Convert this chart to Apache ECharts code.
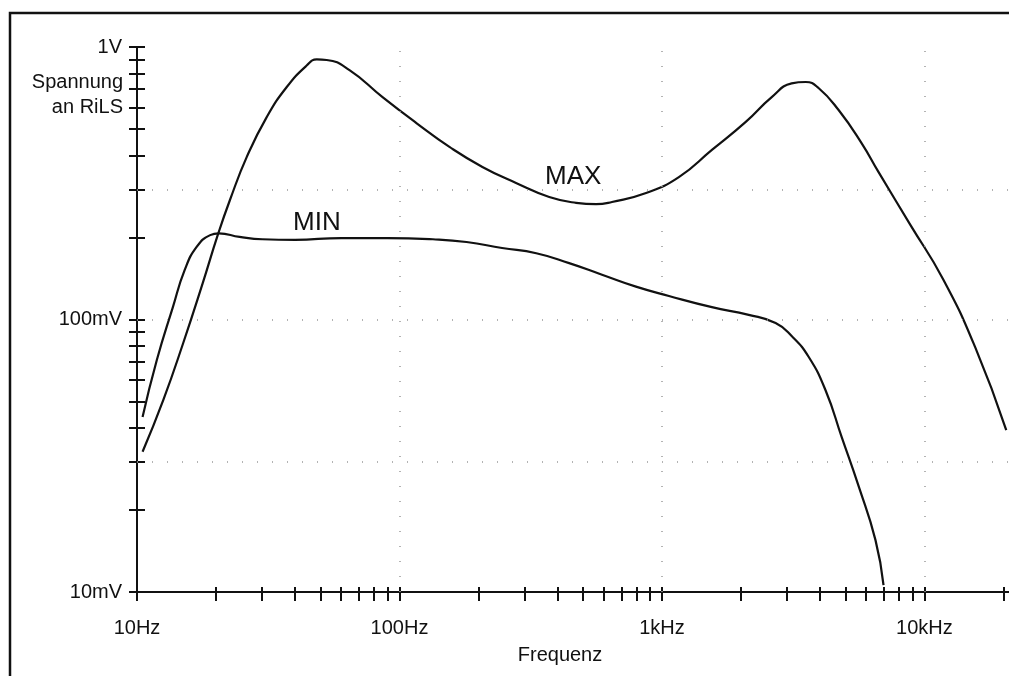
<!DOCTYPE html>
<html>
<head>
<meta charset="utf-8">
<title>Spannung an RiLS</title>
<script src="https://cdn.jsdelivr.net/npm/echarts@6/dist/echarts.min.js"></script>
<style>
  html, body { margin: 0; padding: 0; background: #fff; }
  #chart { width: 1009px; height: 676px; }
</style>
</head>
<body>
<div id="chart"></div>
<script>
// frequency (Hz) / voltage (V)
const minFreq = [10.5, 11.9, 13.7, 15.2, 16.9, 19, 20.5, 24.6, 30, 40, 60, 90, 134, 180, 246, 332, 443, 591, 796, 1063, 1550, 2140, 2710, 3120, 3620, 4200, 4840, 5610, 6510, 6985]
const minVolt = [0.0439, 0.071, 0.111, 0.152, 0.185, 0.204, 0.207, 0.201, 0.197, 0.196, 0.199, 0.199, 0.197, 0.1925, 0.183, 0.175, 0.161, 0.146, 0.132, 0.122, 0.111, 0.104, 0.097, 0.087, 0.073, 0.055, 0.037, 0.0245, 0.0155, 0.0106]

const maxFreq = [10.5, 12.6, 15, 17.8, 20.3, 22.6, 26.2, 31.2, 37.2, 44.3, 48.4, 52.8, 64.5, 86.2, 116, 155, 207, 278, 372, 471, 561, 645, 870, 1160, 1550, 2086, 2620, 3120, 3530, 3950, 4710, 5760, 6680, 8850, 11810, 15620, 20500]
const maxVolt = [0.0327, 0.0507, 0.082, 0.136, 0.204, 0.2745, 0.395, 0.553, 0.713, 0.855, 0.9, 0.896, 0.823, 0.655, 0.526, 0.43, 0.363, 0.317, 0.2815, 0.268, 0.265, 0.27, 0.291, 0.333, 0.419, 0.531, 0.655, 0.735, 0.744, 0.707, 0.587, 0.444, 0.348, 0.222, 0.14, 0.079, 0.0393]

const xTicks = [10, 20, 30, 40, 50, 60, 70, 80, 90, 100, 200, 300, 400, 500, 600, 700, 800, 900, 1000, 2000, 3000, 4000, 5000, 6000, 7000, 8000, 9000, 10000, 20000]
const xLabelValues = [10, 100, 1000, 10000]
const xLabelTexts = ['10Hz', '100Hz', '1kHz', '10kHz']
const yTicks = [0.01, 0.02, 0.03, 0.04, 0.05, 0.06, 0.07, 0.08, 0.09, 0.1, 0.2, 0.3, 0.4, 0.5, 0.6, 0.7, 0.8, 0.9, 1]
const yLabelValues = [0.01, 0.1, 1]
const yLabelTexts = ['10mV', '100mV', '1V']
const gridFreqs = [100, 1000, 10000]
const gridVolts = [0.03, 0.1, 0.3]

const font = "'Liberation Sans', Arial, sans-serif"
const ink = '#111'

function pairs(xs, ys) {
  return xs.map((x, i) => [x, ys[i]])
}

function labelFor(values, texts) {
  return v => {
    const i = values.findIndex(u => Math.abs(u - v) / u < 1e-6)
    return i >= 0 ? texts[i] : ''
  }
}

const chart = echarts.init(document.getElementById('chart'))

const xBase = {
  type: 'log',
  logBase: 10,
  min: 10,
  max: 21000,
  position: 'bottom',
  splitLine: { show: false },
  axisLine: { onZero: false, lineStyle: { color: ink, width: 2 } }
}
const yBase = {
  type: 'log',
  logBase: 10,
  min: 0.01,
  max: 1,
  position: 'left',
  splitLine: { show: false },
  axisLine: { onZero: false, lineStyle: { color: ink, width: 2 } }
}

chart.setOption({
  animation: false,
  backgroundColor: '#fff',
  textStyle: { fontFamily: font },
  grid: { left: 137, top: 47, width: 874, height: 545, containLabel: false },
  xAxis: [
    Object.assign({}, xBase, {
      axisTick: { customValues: xTicks, length: 9, lineStyle: { color: ink, width: 2 } },
      axisLabel: {
        customValues: xLabelValues,
        formatter: labelFor(xLabelValues, xLabelTexts),
        color: ink, fontSize: 20, fontFamily: font, margin: 26
      }
    }),
    Object.assign({}, xBase, {
      axisLine: { show: false },
      axisLabel: { show: false },
      axisTick: { customValues: xTicks, inside: true, length: 5, lineStyle: { color: ink, width: 2 } }
    })
  ],
  yAxis: [
    Object.assign({}, yBase, {
      axisTick: { customValues: yTicks, length: 8, lineStyle: { color: ink, width: 2 } },
      axisLabel: {
        customValues: yLabelValues,
        formatter: labelFor(yLabelValues, yLabelTexts),
        color: ink, fontSize: 20, fontFamily: font, margin: 15
      }
    }),
    Object.assign({}, yBase, {
      axisLine: { show: false },
      axisLabel: { show: false },
      axisTick: { customValues: yTicks, inside: true, length: 8, lineStyle: { color: ink, width: 2 } }
    })
  ],
  graphic: [
    {
      type: 'rect',
      shape: { x: 10, y: 13, width: 1100, height: 800 },
      style: { fill: 'none', stroke: ink, lineWidth: 2.5 },
      silent: true
    },
    {
      type: 'text', x: 123, y: 82,
      style: { text: 'Spannung', font: '20px ' + font, fill: ink, align: 'right', verticalAlign: 'middle' }
    },
    {
      type: 'text', x: 123, y: 107,
      style: { text: 'an RiLS', font: '20px ' + font, fill: ink, align: 'right', verticalAlign: 'middle' }
    },
    {
      type: 'text', x: 560, y: 655,
      style: { text: 'Frequenz', font: '20px ' + font, fill: ink, align: 'center', verticalAlign: 'middle' }
    },
    {
      type: 'text', x: 545, y: 177,
      style: { text: 'MAX', font: '26px ' + font, fill: ink, align: 'left', verticalAlign: 'middle' }
    },
    {
      type: 'text', x: 293, y: 223,
      style: { text: 'MIN', font: '26px ' + font, fill: ink, align: 'left', verticalAlign: 'middle' }
    }
  ],
  series: [
    {
      name: 'MAX',
      type: 'line',
      data: pairs(maxFreq, maxVolt),
      showSymbol: false,
      smooth: 0.5,
      clip: true,
      lineStyle: { color: ink, width: 2.2 },
      markLine: {
        silent: true,
        symbol: 'none',
        label: { show: false },
        lineStyle: { color: '#9a9a9a', width: 1.5, type: [1, 14] },
        data: gridFreqs.map(v => ({ xAxis: v })).concat(gridVolts.map(v => ({ yAxis: v })))
      }
    },
    {
      name: 'MIN',
      type: 'line',
      data: pairs(minFreq, minVolt),
      showSymbol: false,
      smooth: 0.5,
      clip: true,
      lineStyle: { color: ink, width: 2.2 }
    }
  ]
})
</script>
</body>
</html>
